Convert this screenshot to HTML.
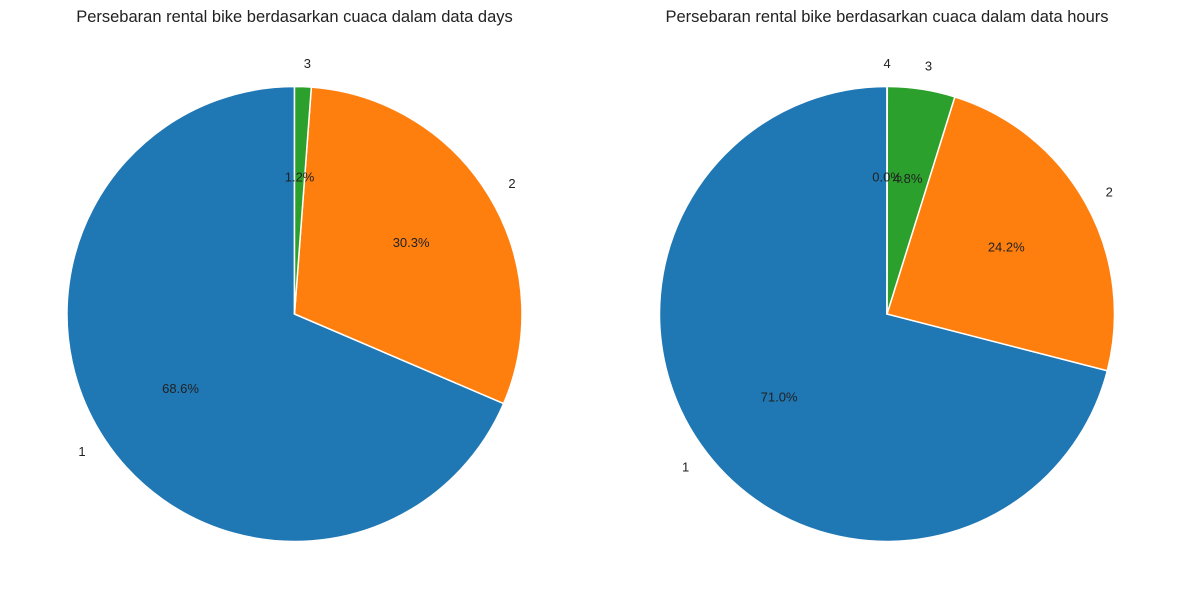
<!DOCTYPE html>
<html><head><meta charset="utf-8"><style>
body{margin:0;background:#fff;}
svg{display:block;font-family:"Liberation Sans",Arial,sans-serif;}
</style></head><body>
<svg id="c" width="1181" height="609"></svg>
<script>
const leftLabels=["1","2","3"];
const leftValues=[68.56,30.26,1.18];
const rightLabels=["1","2","3","4"];
const rightValues=[71.0,24.2,4.8,0.02];
const colors=["#1f77b4","#ff7f0e","#2ca02c","#d62728"];
const NS="http://www.w3.org/2000/svg";
const svg=document.getElementById('c');
function mk(t,a,p){const e=document.createElementNS(NS,t);for(const k in a)e.setAttribute(k,a[k]);(p||svg).appendChild(e);return e;}
function pie(cx,cy,r,labels,values,title,name){
  const g=mk('g',{});
  
  
  const tt=mk('text',{x:cx,y:22,'text-anchor':'middle','font-size':'16.5',fill:'#222'},g);
  tt.textContent=title;
  
  
  const tot=values.reduce((a,b)=>a+b,0);
  let a0=90;
  values.forEach((v,i)=>{
    const sw=v/tot*360,a1=a0+sw;
    const rad=d=>d*Math.PI/180;
    const x0=cx+r*Math.cos(rad(a0)),y0=cy-r*Math.sin(rad(a0));
    const x1=cx+r*Math.cos(rad(a1)),y1=cy-r*Math.sin(rad(a1));
    const p=mk('path',{d:`M${cx},${cy}L${x0},${y0}A${r},${r} 0 ${sw>180?1:0} 0 ${x1},${y1}Z`,fill:colors[i],stroke:'#fff','stroke-width':'1.5'},g);
    
    
    const am=rad(a0+sw/2);
    const lt=mk('text',{x:cx+1.1*r*Math.cos(am),y:cy-1.1*r*Math.sin(am)+4,'text-anchor':Math.cos(am)<-0.01?'end':(Math.cos(am)>0.01?'start':'middle'),'font-size':'13',fill:'#222'});
    lt.textContent=labels[i];
    
    
    const pt=mk('text',{x:cx+0.6*r*Math.cos(am),y:cy-0.6*r*Math.sin(am)+4,'text-anchor':'middle','font-size':'13',fill:'#222'});
    pt.textContent=(v/tot*100).toFixed(1)+'%';
    
    
    a0=a1;
  });
}
pie(294.5,314,227.5,leftLabels,leftValues,"Persebaran rental bike berdasarkan cuaca dalam data days","pie-days");
pie(887,314,227.5,rightLabels,rightValues,"Persebaran rental bike berdasarkan cuaca dalam data hours","pie-hours");
</script>
</body></html>
